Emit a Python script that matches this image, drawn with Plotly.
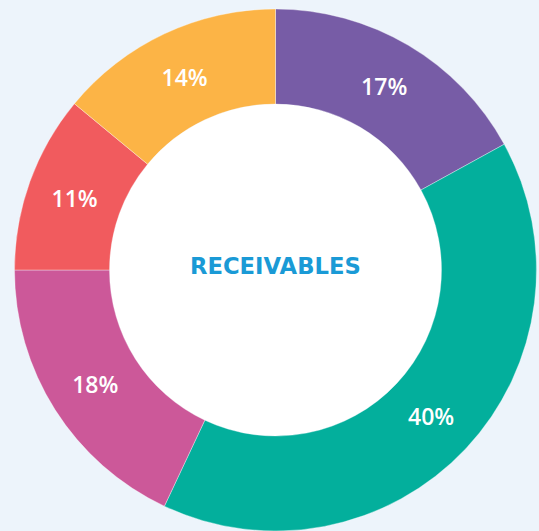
import plotly.graph_objects as go

labels = ["Purple", "Teal", "Pink", "Red", "Orange"]
values = [17, 40, 18, 11, 14]
colors = ["#775CA6", "#03AF9C", "#CC5899", "#F15B5E", "#FCB446"]
center_label = "RECEIVABLES"

W, H = 539, 531
cx, cy, R = 275.5, 270, 261
hole = 0.636

fig = go.Figure(go.Pie(
    labels=labels,
    values=values,
    sort=False,
    direction="clockwise",
    rotation=0,
    hole=hole,
    marker=dict(colors=colors, line=dict(color="rgba(255,255,255,0.35)", width=1)),
    texttemplate="%{value}%",
    textposition="inside",
    insidetextorientation="horizontal",
    textfont=dict(family="Open Sans", size=23, color="white", weight=600),
    showlegend=False,
    hoverinfo="label+percent",
    domain=dict(x=[(cx - R) / W, (cx + R) / W], y=[0, (H - cy + R) / H]),
))

ri = R * hole
fig.add_shape(
    type="circle", xref="paper", yref="paper",
    x0=(cx - ri) / W, x1=(cx + ri) / W,
    y0=(H - cy - ri) / H, y1=(H - cy + ri) / H,
    fillcolor="white", line=dict(width=0), layer="below",
)

fig.add_annotation(
    text=center_label, x=cx / W, y=1 - 266 / H, xref="paper", yref="paper",
    showarrow=False, font=dict(family="DejaVu Sans", size=22.7, color="#1A9AD6", weight=700),
)

fig.update_layout(
    width=W, height=H,
    margin=dict(l=0, r=0, t=0, b=0),
    paper_bgcolor="#EDF4FB",
    plot_bgcolor="#EDF4FB",
)

fig.write_html(
    "out.html",
    config={"displayModeBar": False},
    post_script="document.body.style.margin='0';document.body.style.overflow='hidden';",
)
